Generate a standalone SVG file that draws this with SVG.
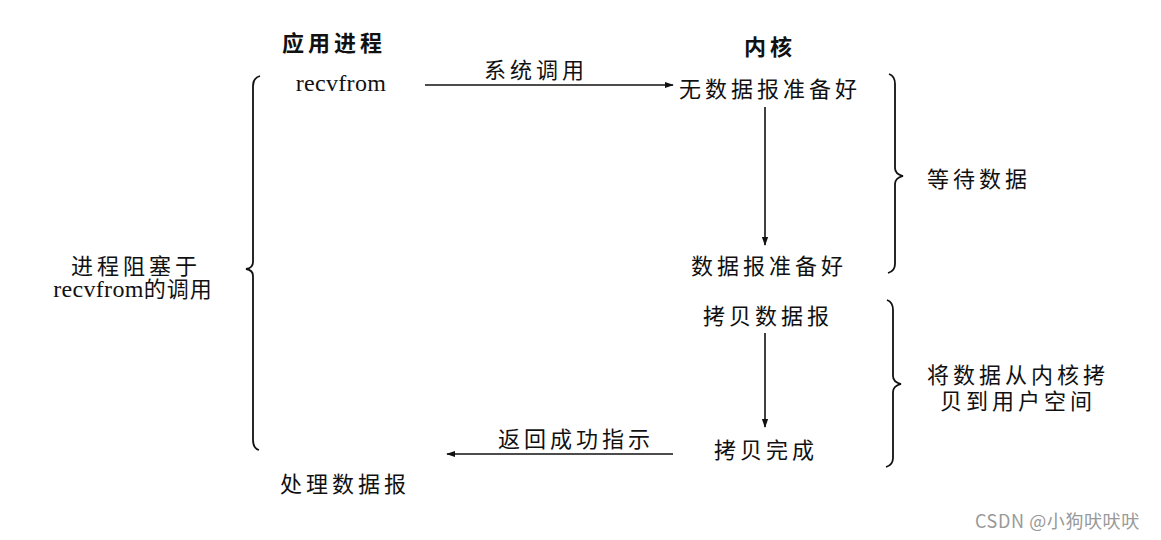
<svg xmlns="http://www.w3.org/2000/svg" width="1161" height="540" viewBox="0 0 1161 540">
<style>
.t{font-family:"Liberation Serif","Noto Sans CJK SC",serif;font-size:22px;letter-spacing:4px;fill:#111}
.r{font-size:24px;letter-spacing:0.3px}
.b{font-weight:bold}
.ln{stroke:#111;stroke-width:1.6;fill:none}
.br{stroke:#111;stroke-width:1.8;fill:none}
.wm{font-family:"Noto Sans CJK SC","Liberation Sans",sans-serif;font-size:18px;letter-spacing:0.6px;fill:#999}
</style>
<defs>
<marker id="ah" viewBox="0 0 10 10" refX="9" refY="5" markerWidth="9" markerHeight="9" orient="auto" markerUnits="userSpaceOnUse">
<path d="M0,1.5 L10,5 L0,8.5 Z" fill="#111"/>
</marker>
</defs>
<rect width="1161" height="540" fill="#fff"/>
<g id="header-app"><text class="t b" x="334" y="51" text-anchor="middle">应用进程</text></g>
<g id="header-kernel"><text class="t b" x="770" y="55" text-anchor="middle">内核</text></g>
<g id="recvfrom"><text class="t r" x="341" y="91" text-anchor="middle">recvfrom</text></g>
<g id="no-data"><text class="t" x="770" y="97" text-anchor="middle">无数据报准备好</text></g>
<g id="data-ready"><text class="t" x="769" y="274" text-anchor="middle">数据报准备好</text></g>
<g id="copy-data"><text class="t" x="768" y="324" text-anchor="middle">拷贝数据报</text></g>
<g id="copy-done"><text class="t" x="766" y="458" text-anchor="middle">拷贝完成</text></g>
<g id="process-data"><text class="t" x="345" y="492" text-anchor="middle">处理数据报</text></g>
<g id="wait-data"><text class="t" x="979" y="187" text-anchor="middle">等待数据</text></g>
<g id="copy-to-user"><text class="t" x="1018" y="383" text-anchor="middle">将数据从内核拷</text><text class="t" x="1018" y="409" text-anchor="middle">贝到用户空间</text></g>
<g id="blocked"><text class="t" x="136" y="274" text-anchor="middle">进程阻塞于</text><text x="133" y="297" text-anchor="middle" class="t"><tspan style="font-size:24px;letter-spacing:0.3px">recvfrom</tspan><tspan style="letter-spacing:1px">的调用</tspan></text></g>
<g id="connectors">
<line class="ln" x1="425" y1="85" x2="673" y2="85" marker-end="url(#ah)"/>
<text class="t" x="536" y="78" text-anchor="middle">系统调用</text>
<line class="ln" x1="765" y1="107" x2="765" y2="245" marker-end="url(#ah)"/>
<line class="ln" x1="765" y1="333" x2="765" y2="427" marker-end="url(#ah)"/>
<line class="ln" x1="673" y1="454" x2="447" y2="454" marker-end="url(#ah)"/>
<text class="t" x="576" y="447" text-anchor="middle">返回成功指示</text>
</g>
<g id="braces">
<path class="br" d="M260,76 Q253,78 253,86 L253,262 Q253,268 246,269 Q253,270 253,276 L253,440 Q253,448 259,450"/>
<path class="br" d="M889,74 Q895,76 895,84 L895,168 Q895,174 903,176 Q895,178 895,184 L895,264 Q895,271 888,273"/>
<path class="br" d="M887,300 Q893,302 893,310 L893,376 Q893,382 901,384 Q893,386 893,392 L893,458 Q893,465 886,467"/>
</g>
<text class="wm" x="975" y="528">CSDN @小狗吠吠吠</text>
</svg>
